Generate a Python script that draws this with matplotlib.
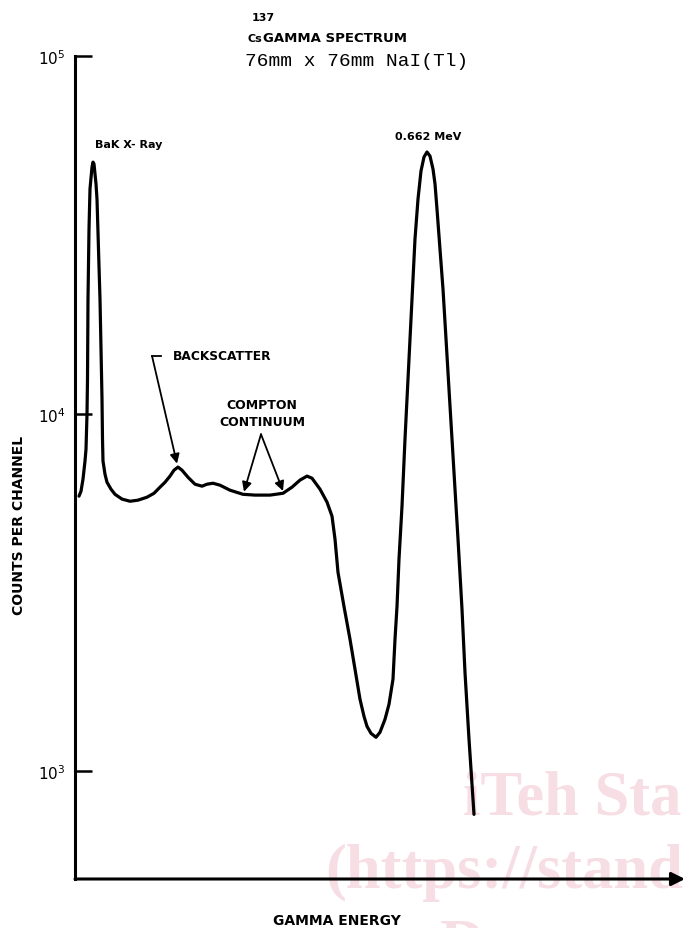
import matplotlib
matplotlib.use("Agg")
import matplotlib.pyplot as plt
from matplotlib.ticker import NullLocator

# Cs-137 spectrum (channel, counts per channel)
channel = [4, 6, 8, 10, 11, 12, 12.5, 13, 14, 15, 17, 18, 19, 21, 22, 23.5,
           25, 26, 27, 27.5, 28, 30, 32, 36, 40, 47, 55, 63, 72, 79, 85, 90,
           95, 99, 103, 107, 113, 120, 127, 132, 138, 145, 155, 168, 180, 195,
           208, 217, 225, 232, 237, 245, 252, 257, 260, 263, 269, 275, 280,
           285, 289, 292, 296, 301, 305, 310, 314, 318, 320, 322, 324, 327,
           330, 333, 337, 340, 343, 346, 349, 352, 355, 358, 360, 362, 365,
           368, 371, 374, 377, 380, 383, 387, 390, 394, 398, 399]
counts = [5880, 6070, 6560, 7370, 7950, 9970, 12500, 20900, 32800, 42500,
          48900, 50500, 49900, 43900, 39800, 28800, 20900, 15200, 11000, 8490,
          7370, 6770, 6430, 6150, 5950, 5770, 5690, 5730, 5840, 5990, 6230,
          6430, 6690, 6950, 7090, 6950, 6640, 6350, 6270, 6350, 6390, 6310,
          6110, 5950, 5920, 5920, 5990, 6230, 6520, 6690, 6600, 6150, 5660,
          5170, 4460, 3600, 2890, 2340, 1930, 1590, 1425, 1336, 1277, 1245,
          1286, 1398, 1540, 1810, 2340, 2890, 3920, 5510, 8490, 12500, 20900,
          30800, 39800, 47700, 52200, 53900, 52500, 48300, 43900, 37300,
          28800, 22300, 16200, 11700, 8490, 6150, 4460, 2840, 1890, 1230, 835,
          758]

y_ticks = [1e3, 1e4, 1e5]

lab = 'DejaVu Sans'

fig = plt.figure(figsize=(6.85, 9.29), dpi=100)
W, H = 685.0, 929.0
ax = fig.add_axes([75 / W, 1 - 880 / H, 610 / W, 823 / H])
ax.set_zorder(2)

# watermark from the scanned source (kept behind the plot)
wm = '#f7dde4'
fig.text(463 / W, 1 - 815 / H, 'iTeh Sta', fontsize=45, color=wm,
         family='Liberation Serif', weight='bold', va='baseline', zorder=-5)
fig.text(325 / W, 1 - 888 / H, '(https://stand', fontsize=45, color=wm,
         family='Liberation Serif', weight='bold', va='baseline', zorder=-5)
fig.text(440 / W, 1 - 963 / H, 'D', fontsize=45, color=wm,
         family='Liberation Serif', weight='bold', va='baseline', zorder=-5)

ax.patch.set_alpha(0)
ax.plot(channel, counts, color='black', lw=2.3, solid_capstyle='round',
        solid_joinstyle='round')

ax.set_yscale('log')
ax.set_ylim(500, 1e5)
ax.set_xlim(0, 610)
ax.set_xticks([])
ax.set_yticks(y_ticks)
ax.yaxis.set_minor_locator(NullLocator())
ax.tick_params(axis='y', direction='in', length=12, width=1.8, labelsize=11,
               pad=7)

for s in ['top', 'right', 'bottom']:
    ax.spines[s].set_visible(False)
ax.spines['left'].set_linewidth(2.2)

ax.annotate('', xy=(1.0, 0), xytext=(0, 0), xycoords='axes fraction',
            arrowprops=dict(arrowstyle='-|>', lw=2.2, color='black',
                            mutation_scale=20, shrinkA=0, shrinkB=0),
            annotation_clip=False)

# labels on peaks
ax.text(20, 56700, 'BaK X- Ray', fontsize=8, weight='bold', family=lab,
        ha='left', va='center')
ax.text(353, 59700, '0.662 MeV', fontsize=8, weight='bold', family=lab,
        ha='center', va='center')

# backscatter leader
ax.plot([77, 86], [14500, 14500], color='black', lw=1.3)
ax.annotate('', xy=(102, 7250), xytext=(77, 14500),
            arrowprops=dict(arrowstyle='-|>', lw=1.3, color='black',
                            mutation_scale=14, shrinkA=0, shrinkB=0))
ax.text(98, 14570, 'BACKSCATTER', fontsize=8.8, weight='bold', family=lab,
        ha='left', va='center')

ax.text(187, 10630, 'COMPTON', fontsize=9, weight='bold', family=lab,
        ha='center', va='center')
ax.text(187, 9530, 'CONTINUUM', fontsize=9, weight='bold', family=lab,
        ha='center', va='center')
for tip in [(169, 6050), (208, 6080)]:
    ax.annotate('', xy=tip, xytext=(186, 8760),
                arrowprops=dict(arrowstyle='-|>', lw=1.3, color='black',
                                mutation_scale=14, shrinkA=0, shrinkB=0))

# title block
fig.text(252 / W, 1 - 18 / H, '137', fontsize=8, weight='bold', family=lab,
         ha='left', va='center')
fig.text(247 / W, 1 - 39 / H, 'Cs', fontsize=8, weight='bold', family=lab,
         ha='left', va='center')
fig.text(263 / W, 1 - 38 / H, 'GAMMA SPECTRUM', fontsize=9.5, weight='bold',
         family=lab, ha='left', va='center')
fig.text(245 / W, 1 - 61 / H, '76mm x 76mm NaI(Tl)', fontsize=14,
         family='Liberation Mono', ha='left', va='center')

fig.text(19 / W, 1 - 525 / H, 'COUNTS PER CHANNEL', fontsize=10,
         weight='bold', family=lab, rotation=90, ha='center', va='center')
fig.text(337 / W, 1 - 921 / H, 'GAMMA ENERGY', fontsize=10, weight='bold',
         family=lab, ha='center', va='center')

fig.savefig('out.png', dpi=100)
